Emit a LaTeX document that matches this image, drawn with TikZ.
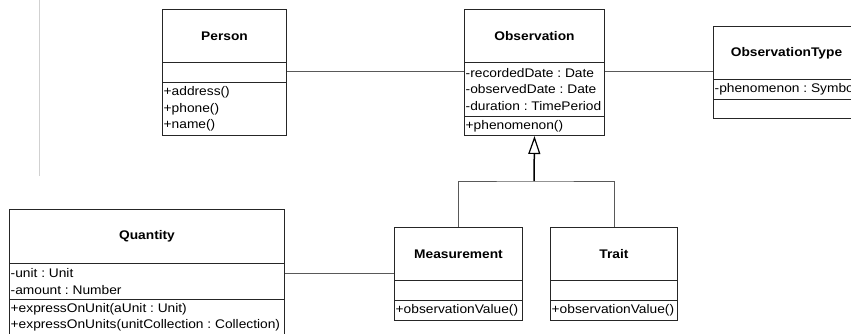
\documentclass[tikz,border=0pt]{standalone}
\usepackage{fontspec}
\setmainfont[FakeStretch=1.1]{Liberation Sans}
\usetikzlibrary{arrows.meta}
\frenchspacing
\tikzset{
  comp/.style={draw=black!85, line width=1pt, anchor=north west, inner sep=0pt},
  txt/.style={anchor=west, inner xsep=1.5pt, inner ysep=0pt, align=left,
    font=\fontsize{12.5}{16.5}\selectfont},
  ttl/.style={draw=black!85, line width=1pt, anchor=north west, inner sep=0pt,
    align=center, font=\fontsize{12.5}{16.5}\selectfont\bfseries},
  assoc/.style={draw=black!65, line width=1pt},
  gen/.style={draw=black, line width=1.5pt},
}
\begin{document}
\begin{tikzpicture}[x=1pt,y=-1pt]
\useasboundingbox (0,0) rectangle (851,333);
\clip (0,0) rectangle (851,333);
\draw[black!18, line width=1pt] (39,0) -- (39,176);
% Person
\node[ttl, minimum width=124, minimum height=53] (p-t) at (162,9) {Person};
\node[comp, minimum width=124, minimum height=20] (p-a) at (162,62) {};
\node[comp, minimum width=124, minimum height=53] (p-o) at (162,82) {};
\node[txt] (p-o-x) at (p-o.west) {+address()\\+phone()\\+name()};
% Observation
\node[ttl, minimum width=140, minimum height=53] (o-t) at (464,9) {Observation};
\node[comp, minimum width=140, minimum height=54] (o-a) at (464,62) {};
\node[txt] (o-a-x) at (o-a.west) {-recordedDate : Date\\-observedDate : Date\\-duration : TimePeriod};
\node[comp, minimum width=140, minimum height=19] (o-o) at (464,116) {};
\node[txt] (o-o-x) at (o-o.west) {+phenomenon()};
% ObservationType
\node[ttl, minimum width=146, minimum height=53] (ot-t) at (713,26) {ObservationType};
\node[comp, minimum width=146, minimum height=20] (ot-a) at (713,79) {};
\node[txt] (ot-a-x) at (ot-a.west) {-phenomenon : Symbol};
\node[comp, minimum width=146, minimum height=19] (ot-o) at (713,99) {};
% Measurement
\node[ttl, minimum width=128, minimum height=53] (m-t) at (394,227) {Measurement};
\node[comp, minimum width=128, minimum height=20] (m-a) at (394,280) {};
\node[comp, minimum width=128, minimum height=20] (m-o) at (394,300) {};
\node[txt] (m-o-x) at (m-o.west) {+observationValue()};
% Trait
\node[ttl, minimum width=127, minimum height=53] (t-t) at (550,227) {Trait};
\node[comp, minimum width=127, minimum height=20] (t-a) at (550,280) {};
\node[comp, minimum width=127, minimum height=20] (t-o) at (550,300) {};
\node[txt] (t-o-x) at (t-o.west) {+observationValue()};
% Quantity
\node[ttl, minimum width=275, minimum height=54] (q-t) at (9,209) {Quantity};
\node[comp, minimum width=275, minimum height=36] (q-a) at (9,263) {};
\node[txt] (q-a-x) at (q-a.west) {-unit : Unit\\-amount : Number};
\node[comp, minimum width=275, minimum height=36] (q-o) at (9,299) {};
\node[txt] (q-o-x) at (q-o.west) {+expressOnUnit(aUnit : Unit)\\+expressOnUnits(unitCollection : Collection)};
% associations
\draw[assoc] ([yshift=1]p-a.east) -- ([yshift=1]p-a.east -| o-a.west);
\draw[assoc] ([yshift=1]p-a.east -| o-a.east) -- ([yshift=1]p-a.east -| ot-t.west);
\draw[assoc] ([yshift=8]q-a.east) -- ([yshift=8]q-a.east -| m-t.west);
% generalization
\coordinate (junc) at (534,181);
\draw[gen, -{Triangle[open, length=18pt, width=12pt, line width=1.2pt]}] (junc) -- (o-o.south);
\draw[assoc] (m-t.north) |- (junc) -| (t-t.north);
\end{tikzpicture}
\end{document}
